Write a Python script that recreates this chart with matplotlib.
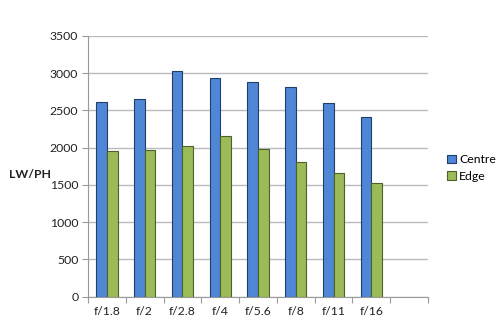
import matplotlib
matplotlib.use("Agg")
import matplotlib.pyplot as plt
import numpy as np

categories = ["f/1.8", "f/2", "f/2.8", "f/4", "f/5.6", "f/8", "f/11", "f/16"]
centre = [2610, 2655, 3025, 2930, 2880, 2815, 2592, 2405]
edge = [1950, 1965, 2022, 2154, 1976, 1800, 1654, 1520]

plt.rcParams['font.family'] = ['Lato', 'DejaVu Sans']

fig = plt.figure(figsize=(5, 3.34), dpi=100)
ax = fig.add_axes([0.176, 0.1117, 0.68, 0.7813])

n_slots = len(categories) + 1
x = np.arange(len(categories)) + 0.5
w = 0.283
blue = "#4F86D6"
green = "#9BBB59"
ax.bar(x - w / 2, centre, w, color=blue, edgecolor="#1F3F6A", linewidth=0.8, label="Centre", zorder=3)
ax.bar(x + w / 2, edge, w, color=green, edgecolor="#4E6128", linewidth=0.8, label="Edge", zorder=3)

ax.set_xlim(0, n_slots)
ax.set_ylim(0, 3500)
ax.set_yticks(np.arange(0, 3501, 500))
ax.yaxis.grid(True, color="#BBBBBB", linewidth=1.0, zorder=0)
ax.set_axisbelow(True)

ax.set_xticks(np.arange(0, n_slots + 1))
ax.set_xticklabels([])
ax.set_xticks(x, minor=True)
ax.set_xticklabels(categories, minor=True)
ax.tick_params(axis='x', which='minor', length=0, pad=7, labelsize=8.8, colors="#222222")
ax.tick_params(axis='x', which='major', length=4, color="#999999")
ax.tick_params(axis='y', length=4, color="#999999", labelsize=8.8, labelcolor="#222222", pad=3)

for s in ["top", "right"]:
    ax.spines[s].set_visible(False)
for s in ["left", "bottom"]:
    ax.spines[s].set_color("#999999")

fig.text(0.06, 0.479, "LW/PH", fontsize=8.8, fontweight="bold", ha="center", va="center", color="#222222")

leg = fig.legend(loc="upper left", bbox_to_anchor=(0.872, 0.571), frameon=False,
                 fontsize=8.8, handlelength=0.7, handleheight=0.7, handletextpad=0.3, labelspacing=0.45)

fig.savefig("out.png", dpi=100)
